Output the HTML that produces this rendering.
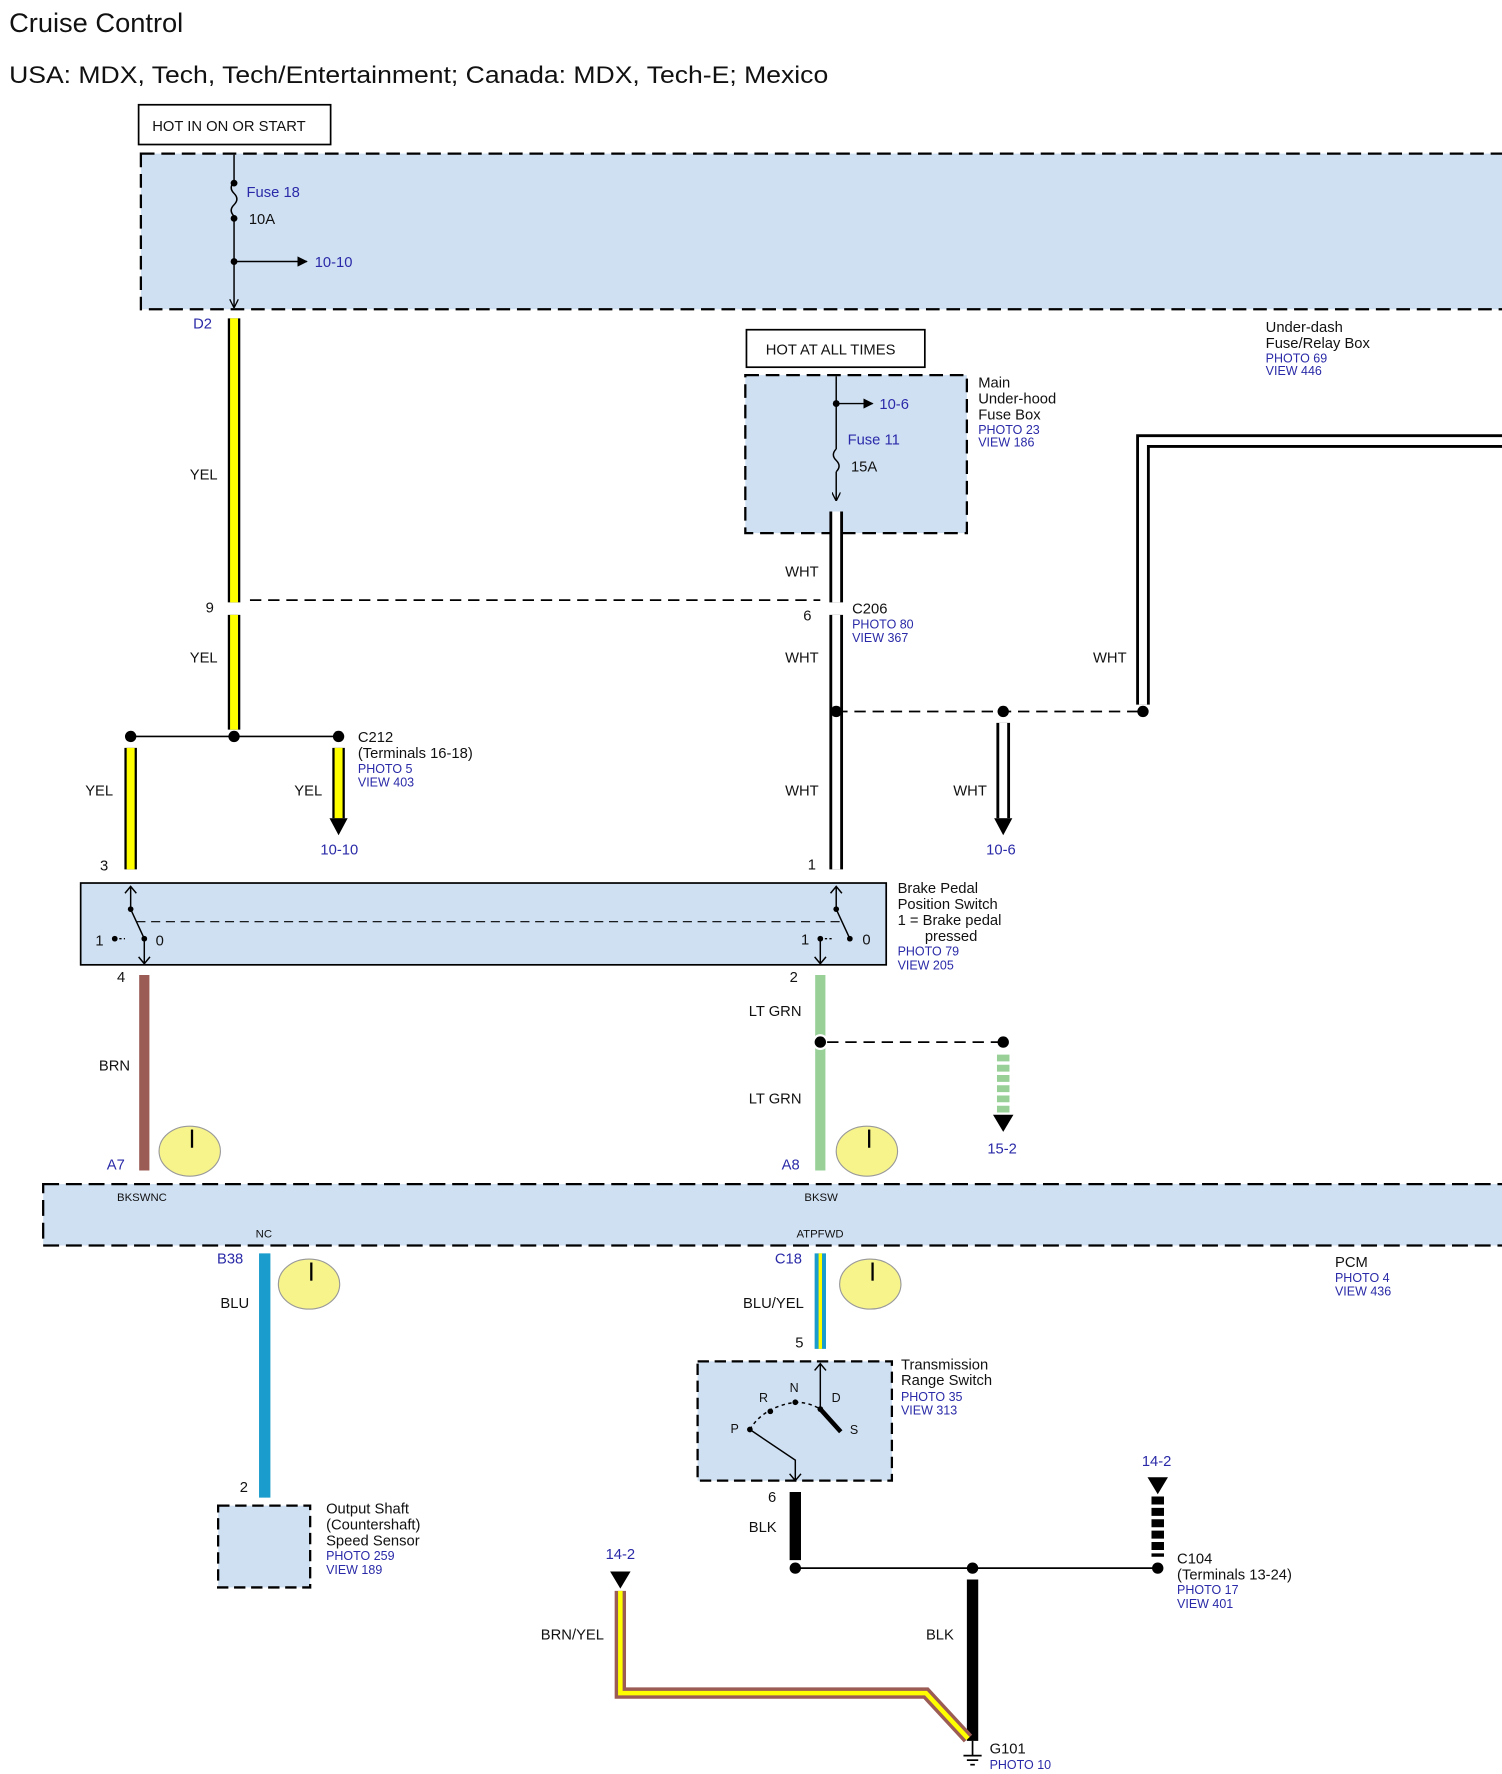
<!DOCTYPE html>
<html><head><meta charset="utf-8"><style>
html,body{margin:0;padding:0;background:#fff;}
svg{display:block;}
text{font-family:"Liberation Sans",Arial,sans-serif;font-size:13px;fill:#111;}
.b{fill:#2a2aa8;}
.s{font-size:11px;}
.xs{font-size:10px;}
</style></head><body>
<svg width="1502" height="1774" viewBox="0 0 1322 1561" xmlns="http://www.w3.org/2000/svg">
<defs>
<marker id="ah" viewBox="0 0 10 10" refX="9" refY="5" markerWidth="7" markerHeight="7" orient="auto"><path d="M0,0L10,5L0,10z" fill="#000"/></marker>
<marker id="av" viewBox="0 0 10 10" refX="9" refY="5" markerWidth="6" markerHeight="6" orient="auto"><path d="M0,0L10,5L0,10" fill="none" stroke="#000" stroke-width="1.5"/></marker>
</defs>
<text x="8" y="28" style="font-size:24px">Cruise Control</text>
<text x="8" y="73" style="font-size:21.5px" textLength="721" lengthAdjust="spacingAndGlyphs">USA: MDX, Tech, Tech/Entertainment; Canada: MDX, Tech-E; Mexico</text>

<rect x="122" y="92" width="169" height="35" fill="#fff" stroke="#000" stroke-width="1.5"/>
<text x="134" y="115">HOT IN ON OR START</text>
<rect x="124" y="135" width="1210" height="137" fill="#cfe0f3" stroke="#000" stroke-width="2" stroke-dasharray="12,6"/>
<line x1="206" y1="136" x2="206" y2="160" stroke="#000" stroke-width="1.3"/>
<path d="M206,160 q-5,5 0,10 q5,5 0,10 q-5,5 0,10" fill="none" stroke="#000" stroke-width="1.3"/>
<line x1="206" y1="192" x2="206" y2="270" stroke="#000" stroke-width="1.3" marker-end="url(#av)"/>
<circle cx="206" cy="161" r="3"/><circle cx="206" cy="192" r="3"/><circle cx="206" cy="230" r="3"/>
<line x1="206" y1="230" x2="270" y2="230" stroke="#000" stroke-width="1.3" marker-end="url(#ah)"/>
<text x="217" y="173" class="b">Fuse 18</text><text x="219" y="197">10A</text>
<text x="277" y="235" class="b">10-10</text>
<text x="170" y="289" class="b">D2</text>
<text x="1114" y="292">Under-dash</text><text x="1114" y="306">Fuse/Relay Box</text>
<text x="1114" y="319" class="b s">PHOTO 69</text><text x="1114" y="330" class="b s">VIEW 446</text>

<g stroke-linecap="butt">
<line x1="206" y1="280" x2="206" y2="530" stroke="#000" stroke-width="11"/><line x1="206" y1="280" x2="206" y2="530" stroke="#ffff00" stroke-width="7"/>
<line x1="206" y1="541" x2="206" y2="642" stroke="#000" stroke-width="11"/><line x1="206" y1="541" x2="206" y2="642" stroke="#ffff00" stroke-width="7"/>
<line x1="115" y1="658" x2="115" y2="765" stroke="#000" stroke-width="11"/><line x1="115" y1="658" x2="115" y2="765" stroke="#ffff00" stroke-width="7"/>
<line x1="298" y1="658" x2="298" y2="720" stroke="#000" stroke-width="11"/><line x1="298" y1="658" x2="298" y2="720" stroke="#ffff00" stroke-width="7"/>
</g>
<path d="M290,720 L306,720 L298,735z" fill="#000"/>
<text x="167" y="422">YEL</text><text x="181" y="539">9</text><text x="167" y="583">YEL</text>
<line x1="220" y1="528" x2="722" y2="528" stroke="#000" stroke-width="1.5" stroke-dasharray="10,6"/>
<line x1="115" y1="648" x2="298" y2="648" stroke="#000" stroke-width="1.5"/>
<circle cx="115" cy="648" r="5"/><circle cx="206" cy="648" r="5"/><circle cx="298" cy="648" r="5"/>
<text x="75" y="700">YEL</text><text x="259" y="700">YEL</text><text x="88" y="766">3</text>
<text x="282" y="752" class="b">10-10</text>
<text x="315" y="653">C212</text><text x="315" y="667">(Terminals 16-18)</text>
<text x="315" y="680" class="b s">PHOTO 5</text><text x="315" y="692" class="b s">VIEW 403</text>

<rect x="657" y="290" width="157" height="33" fill="#fff" stroke="#000" stroke-width="1.5"/>
<text x="674" y="312">HOT AT ALL TIMES</text>
<rect x="656" y="330" width="195" height="139" fill="#cfe0f3" stroke="#000" stroke-width="2" stroke-dasharray="12,6"/>
<line x1="736" y1="331" x2="736" y2="395" stroke="#000" stroke-width="1.3"/>
<path d="M736,395 q-5,5 0,10 q5,5 0,10" fill="none" stroke="#000" stroke-width="1.3"/>
<line x1="736" y1="415" x2="736" y2="440" stroke="#000" stroke-width="1.3" marker-end="url(#av)"/>
<circle cx="736" cy="355" r="3"/>
<line x1="736" y1="355" x2="768" y2="355" stroke="#000" stroke-width="1.3" marker-end="url(#ah)"/>
<text x="774" y="360" class="b">10-6</text><text x="746" y="391" class="b">Fuse 11</text><text x="749" y="415">15A</text>
<text x="861" y="341">Main</text><text x="861" y="355">Under-hood</text><text x="861" y="369">Fuse Box</text>
<text x="861" y="382" class="b s">PHOTO 23</text><text x="861" y="393" class="b s">VIEW 186</text>

<g fill="none">
<path d="M736,450V530M736,541V765M883,636V720" stroke="#000" stroke-width="12"/>
<path d="M736,450V530M736,541V765M883,636V720" stroke="#fff" stroke-width="7"/>
<path d="M1006,620V388H1330" stroke="#000" stroke-width="12"/>
<path d="M1006,620V388H1330" stroke="#fff" stroke-width="7"/>
</g>
<path d="M875,720 L891,720 L883,735z" fill="#000"/>
<text x="691" y="507">WHT</text><text x="707" y="546">6</text>
<text x="750" y="540">C206</text><text x="750" y="553" class="b s">PHOTO 80</text><text x="750" y="565" class="b s">VIEW 367</text>
<text x="691" y="583">WHT</text><text x="962" y="583">WHT</text>
<line x1="736" y1="626" x2="1006" y2="626" stroke="#000" stroke-width="1.5" stroke-dasharray="10,6"/>
<circle cx="736" cy="626" r="5"/><circle cx="883" cy="626" r="5"/><circle cx="1006" cy="626" r="5"/>
<text x="691" y="700">WHT</text><text x="839" y="700">WHT</text><text x="868" y="752" class="b">10-6</text>
<text x="711" y="765">1</text>

<rect x="71" y="777" width="709" height="72" fill="#cfe0f3" stroke="#000" stroke-width="1.5"/>
<line x1="120" y1="811" x2="742" y2="811" stroke="#000" stroke-width="1" stroke-dasharray="8,5"/>
<g stroke="#000" stroke-width="1.3" fill="none">
<path d="M115,800V781M110,786L115,780L120,786"/><path d="M115,800L127,826"/><path d="M101,826H110" stroke-dasharray="2,2"/>
<path d="M127,826V847M122,842L127,848L132,842"/>
<path d="M736,800V781M731,786L736,780L741,786"/><path d="M736,800L748,826"/><path d="M722,826H734" stroke-dasharray="2,2"/>
<path d="M722,826V847M717,842L722,848L727,842"/>
</g>
<circle cx="115" cy="800" r="2.5"/><circle cx="101" cy="826" r="2.5"/><circle cx="127" cy="826" r="2.5"/>
<circle cx="736" cy="800" r="2.5"/><circle cx="722" cy="826" r="2.5"/><circle cx="748" cy="826" r="2.5"/>
<text x="84" y="832">1</text><text x="137" y="832">0</text><text x="705" y="831">1</text><text x="759" y="831">0</text>
<text x="790" y="786">Brake Pedal</text><text x="790" y="800">Position Switch</text><text x="790" y="814">1 = Brake pedal</text><text x="814" y="828">pressed</text>
<text x="790" y="841" class="b s">PHOTO 79</text><text x="790" y="853" class="b s">VIEW 205</text>
<text x="103" y="864">4</text><text x="695" y="864">2</text>

<line x1="127" y1="858" x2="127" y2="1030" stroke="#9b5c56" stroke-width="9"/>
<line x1="722" y1="858" x2="722" y2="1030" stroke="#98d098" stroke-width="9"/>
<text x="87" y="942">BRN</text><text x="659" y="894">LT GRN</text><text x="659" y="971">LT GRN</text>
<circle cx="722" cy="917" r="6" fill="#000" stroke="#fff" stroke-width="2"/>
<line x1="728" y1="917" x2="883" y2="917" stroke="#000" stroke-width="1.5" stroke-dasharray="10,6"/>
<circle cx="883" cy="917" r="5"/>
<line x1="883" y1="928" x2="883" y2="980" stroke="#98d098" stroke-width="11" stroke-dasharray="6,3"/>
<path d="M874,981 L892,981 L883,996z" fill="#000"/>
<text x="869" y="1015" class="b">15-2</text>
<text x="94" y="1029" class="b">A7</text><text x="688" y="1029" class="b">A8</text>
<g fill="#f7f48c" stroke="#999" stroke-width="1">
<ellipse cx="167" cy="1013" rx="27" ry="22"/><ellipse cx="763" cy="1013" rx="27" ry="22"/>
<ellipse cx="272" cy="1130" rx="27" ry="22"/><ellipse cx="766" cy="1130" rx="27" ry="22"/>
</g>
<g stroke="#000" stroke-width="2"><line x1="169" y1="994" x2="169" y2="1010"/><line x1="765" y1="994" x2="765" y2="1010"/><line x1="274" y1="1111" x2="274" y2="1127"/><line x1="768" y1="1111" x2="768" y2="1127"/></g>

<rect x="38" y="1042" width="1300" height="54" fill="#cfe0f3" stroke="#000" stroke-width="2" stroke-dasharray="14,6"/>
<text x="103" y="1057" class="xs">BKSWNC</text><text x="708" y="1057" class="xs">BKSW</text>
<text x="225" y="1089" class="xs">NC</text><text x="701" y="1089" class="xs">ATPFWD</text>
<text x="1175" y="1115">PCM</text><text x="1175" y="1128" class="b s">PHOTO 4</text><text x="1175" y="1140" class="b s">VIEW 436</text>
<text x="191" y="1112" class="b">B38</text><text x="682" y="1112" class="b">C18</text>
<line x1="233" y1="1103" x2="233" y2="1318" stroke="#1a9ccc" stroke-width="10"/>
<text x="194" y="1151">BLU</text><text x="211" y="1313">2</text>
<line x1="722" y1="1103" x2="722" y2="1187" stroke="#1a9ccc" stroke-width="10"/>
<line x1="722" y1="1103" x2="722" y2="1187" stroke="#ffff00" stroke-width="3"/>
<text x="654" y="1151">BLU/YEL</text><text x="700" y="1186">5</text>
<rect x="192" y="1325" width="81" height="72" fill="#cfe0f3" stroke="#000" stroke-width="2" stroke-dasharray="10,5"/>
<text x="287" y="1332">Output Shaft</text><text x="287" y="1346">(Countershaft)</text><text x="287" y="1360">Speed Sensor</text>
<text x="287" y="1373" class="b s">PHOTO 259</text><text x="287" y="1385" class="b s">VIEW 189</text>

<rect x="614" y="1198" width="171" height="105" fill="#cfe0f3" stroke="#000" stroke-width="2" stroke-dasharray="10,5"/>
<g stroke="#000" stroke-width="1.3" fill="none">
<path d="M722,1240V1201M717,1206L722,1200L727,1206"/>
<path d="M722,1240L740,1260" stroke-width="4"/>
<path d="M660,1258 Q672,1238 700,1234 Q712,1234 722,1240" stroke-dasharray="3,3"/>
<path d="M660,1258L700,1285V1302M695,1297L700,1303L705,1297"/>
</g>
<circle cx="660" cy="1258" r="2.5"/><circle cx="678" cy="1242" r="2.5"/><circle cx="700" cy="1234" r="2.5"/><circle cx="722" cy="1240" r="2.5"/>
<text x="668" y="1234" class="s">R</text><text x="695" y="1225" class="s">N</text><text x="732" y="1234" class="s">D</text>
<text x="643" y="1261" class="s">P</text><text x="748" y="1262" class="s">S</text>
<text x="793" y="1205">Transmission</text><text x="793" y="1219">Range Switch</text>
<text x="793" y="1233" class="b s">PHOTO 35</text><text x="793" y="1245" class="b s">VIEW 313</text>

<text x="676" y="1322">6</text>
<line x1="700" y1="1313" x2="700" y2="1373" stroke="#000" stroke-width="10"/>
<text x="659" y="1348">BLK</text>
<line x1="700" y1="1380" x2="1019" y2="1380" stroke="#000" stroke-width="1.5"/>
<circle cx="700" cy="1380" r="5"/><circle cx="856" cy="1380" r="5"/><circle cx="1019" cy="1380" r="5"/>
<line x1="856" y1="1390" x2="856" y2="1532" stroke="#000" stroke-width="10"/>
<text x="815" y="1443">BLK</text>
<text x="1005" y="1290" class="b">14-2</text>
<path d="M1010,1300 L1028,1300 L1019,1315z" fill="#000"/>
<line x1="1019" y1="1317" x2="1019" y2="1370" stroke="#000" stroke-width="11" stroke-dasharray="7,3"/>
<text x="1036" y="1376">C104</text><text x="1036" y="1390">(Terminals 13-24)</text>
<text x="1036" y="1403" class="b s">PHOTO 17</text><text x="1036" y="1415" class="b s">VIEW 401</text>
<text x="533" y="1372" class="b">14-2</text>
<path d="M537,1383 L555,1383 L546,1398z" fill="#000"/>
<path d="M546,1400V1490H815L852,1530" fill="none" stroke="#9b5c56" stroke-width="10"/>
<path d="M546,1400V1490H815L852,1530" fill="none" stroke="#ffff00" stroke-width="4"/>
<text x="476" y="1443">BRN/YEL</text>
<g stroke="#000" stroke-width="1.5"><line x1="856" y1="1532" x2="856" y2="1545"/><line x1="848" y1="1545" x2="864" y2="1545"/><line x1="851" y1="1549" x2="861" y2="1549"/><line x1="854" y1="1553" x2="858" y2="1553"/></g>
<text x="871" y="1543">G101</text><text x="871" y="1557" class="b s">PHOTO 10</text>
</svg>
</body></html>
